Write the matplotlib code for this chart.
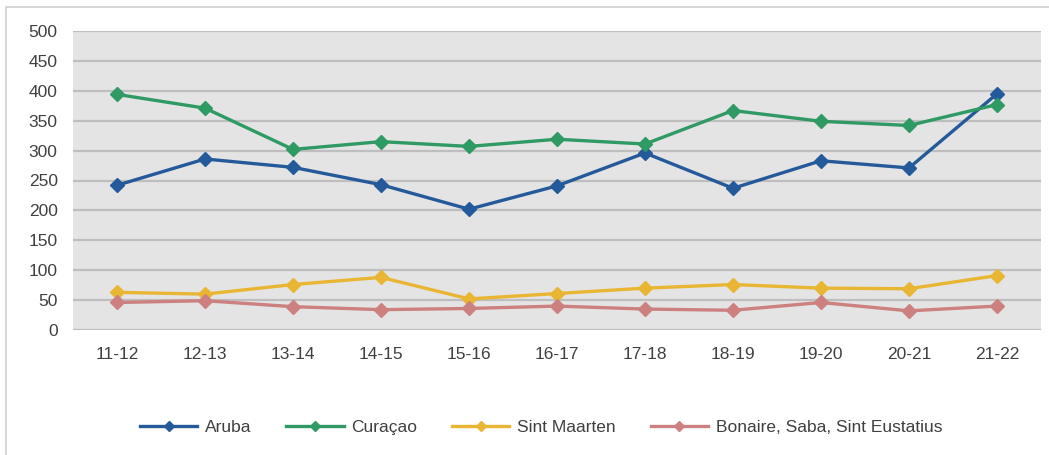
import matplotlib
matplotlib.use("Agg")
import matplotlib.pyplot as plt
from matplotlib.patches import Rectangle
import numpy as np

years = ["11-12", "12-13", "13-14", "14-15", "15-16", "16-17",
         "17-18", "18-19", "19-20", "20-21", "21-22"]
aruba = [242, 286, 272, 243, 202, 241, 296, 237, 283, 271, 395]
curacao = [394, 371, 302, 315, 307, 319, 311, 367, 349, 342, 377]
sint_maarten = [63, 60, 76, 88, 52, 61, 70, 76, 70, 69, 91]
bonaire = [46, 49, 39, 34, 36, 40, 35, 33, 46, 32, 40]

series = [
    ("Aruba", aruba, "#255A9A"),
    ("Curaçao", curacao, "#2F9A64"),
    ("Sint Maarten", sint_maarten, "#E8B632"),
    ("Bonaire, Saba, Sint Eustatius", bonaire, "#CC8080"),
]

plt.rcParams["font.family"] = ["Liberation Sans", "DejaVu Sans"]

fig = plt.figure(figsize=(10.49, 4.55), dpi=100)
fig.patches.append(Rectangle((6 / 1049, -0.1), 1.2, 1 - 7 / 455 + 0.1,
                             transform=fig.transFigure, fill=False,
                             edgecolor="#D0D0D0", linewidth=1.2))

ax = fig.add_axes([73 / 1049, 1 - 330 / 455, 968 / 1049, 299 / 455])
ax.set_facecolor("#E4E4E4")

x = np.arange(len(years))
for name, vals, col in series:
    ax.plot(x, vals, color=col, linewidth=2.4, marker="D", markersize=7,
            label=name, zorder=3)

ax.set_xlim(-0.5, len(years) - 0.5)
ax.set_ylim(0, 500)
ax.set_yticks(np.arange(0, 501, 50))
ax.set_xticks(x)
ax.set_xticklabels(years)
ax.grid(axis="y", color="#BEBEBE", linewidth=1.6)
ax.set_axisbelow(True)
for s in ax.spines.values():
    s.set_visible(False)
ax.tick_params(axis="both", length=0, labelsize=12.5, colors="#404040")
ax.tick_params(axis="x", pad=12)
ax.tick_params(axis="y", pad=11)

fig.legend(loc="center", bbox_to_anchor=(541 / 1049, 1 - 427 / 455), ncol=4,
           frameon=False, fontsize=12.5, handlelength=3.3, handletextpad=0.45,
           columnspacing=2.0, markerscale=0.7, labelcolor="#404040")

fig.savefig("out.png", dpi=100)
